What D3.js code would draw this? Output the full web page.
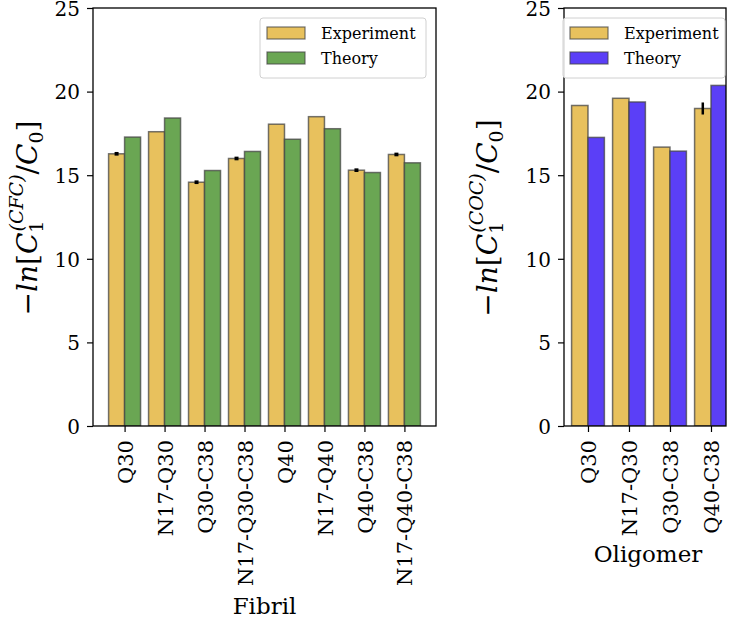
<!DOCTYPE html>
<html>
<head>
<meta charset="utf-8">
<script src="https://cdn.jsdelivr.net/npm/d3@7.9.0/dist/d3.min.js"></script>
<style>
  body { margin: 0; background: #fff; }
  svg text { font-family: "DejaVu Serif", "Liberation Serif", serif; fill: #000; }
</style>
</head>
<body>
<svg id="chart" width="736" height="623"></svg>
<script>
// ---- data ----
const fibrilCats = ['Q30', 'N17-Q30', 'Q30-C38', 'N17-Q30-C38', 'Q40', 'N17-Q40', 'Q40-C38', 'N17-Q40-C38'];
const fibrilExp = [16.28, 17.6, 14.58, 16.0, 18.05, 18.5, 15.3, 16.24];
const fibrilExpErr = [0.05, 0.0, 0.05, 0.05, 0.0, 0.0, 0.05, 0.05];
const fibrilTheory = [17.28, 18.42, 15.28, 16.42, 17.15, 17.78, 15.16, 15.74];

const oligoCats = ['Q30', 'N17-Q30', 'Q30-C38', 'Q40-C38'];
const oligoExp = [19.17, 19.6, 16.68, 18.99];
const oligoExpErr = [0.0, 0.0, 0.0, 0.36];
const oligoTheory = [17.26, 19.38, 16.44, 20.37];

const yTicks = [0, 5, 10, 15, 20, 25];
const seriesNames = ['Experiment', 'Theory'];

const YELLOW = '#e8c15d';
const GREEN = '#6aa653';
const BLUE = '#5b3ff7';
const EDGE = 'rgba(70,70,70,0.75)';

const svg = d3.select('#chart');

/* draw one panel */
function panel(opt) {
  const { left, right, top, bottom, xDomain, cats, exp, err, theory, theoryColor, yLabelX, sup, xTitle, xTitleY } = opt;
  const g = svg.append('g');
  const x = d3.scaleLinear().domain(xDomain).range([left, right]);
  const y = d3.scaleLinear().domain([0, 25]).range([bottom, top]);
  const w = 0.4;

  const clipId = 'clip' + left;
  svg.append('clipPath').attr('id', clipId)
    .append('rect').attr('x', left).attr('y', top).attr('width', right - left).attr('height', bottom - top);

  const bars = g.append('g').attr('clip-path', `url(#${clipId})`);
  const data = cats.map((c, i) => ({ i, c, e: exp[i], err: err[i], t: theory[i] }));

  bars.selectAll('rect.exp').data(data).join('rect')
    .attr('x', d => x(d.i - w))
    .attr('width', d => x(w) - x(0))
    .attr('y', d => y(d.e))
    .attr('height', d => y(0) - y(d.e))
    .attr('fill', YELLOW).attr('stroke', EDGE).attr('stroke-width', 1.5);

  bars.selectAll('rect.th').data(data).join('rect')
    .attr('x', d => x(d.i))
    .attr('width', d => x(w) - x(0))
    .attr('y', d => y(d.t))
    .attr('height', d => y(0) - y(d.t))
    .attr('fill', theoryColor).attr('stroke', EDGE).attr('stroke-width', 1.5);

  // error bars
  bars.selectAll('line.err').data(data.filter(d => d.err > 0)).join('line')
    .attr('x1', d => x(d.i - w / 2)).attr('x2', d => x(d.i - w / 2))
    .attr('y1', d => y(d.e - d.err) + (d.err < 0.1 ? 1 : 0))
    .attr('y2', d => y(d.e + d.err) - (d.err < 0.1 ? 1 : 0))
    .attr('stroke', '#000').attr('stroke-width', d => d.err < 0.1 ? 4 : 2.5);

  // frame
  g.append('rect').attr('x', left).attr('y', top).attr('width', right - left).attr('height', bottom - top)
    .attr('fill', 'none').attr('stroke', '#000').attr('stroke-width', 1.3);

  // y axis
  const ya = g.append('g').attr('transform', `translate(${left},0)`)
    .call(d3.axisLeft(y).tickValues(yTicks).tickSize(6).tickPadding(7));
  ya.select('.domain').remove();
  ya.selectAll('line').attr('stroke-width', 1.2);
  ya.selectAll('text').style('font-size', '20px').attr('dy', '0.36em');

  // x axis
  const xa = g.append('g').attr('transform', `translate(0,${bottom})`)
    .call(d3.axisBottom(x).tickValues(d3.range(cats.length)).tickFormat(i => cats[i]).tickSize(6).tickPadding(8));
  xa.select('.domain').remove();
  xa.selectAll('line').attr('stroke-width', 1.2);
  xa.selectAll('text')
    .style('font-size', '21px')
    .attr('text-anchor', 'end')
    .attr('transform', 'rotate(-90)')
    .attr('x', -14).attr('y', 0).attr('dy', '0.36em');

  // x title
  g.append('text').attr('x', (left + right) / 2 + (opt.xTitleDx || 0)).attr('y', xTitleY)
    .attr('text-anchor', 'middle').style('font-size', '23px').text(xTitle);

  // y label: -ln[C_1^(sup)/C_0]
  const yl = g.append('text')
    .attr('transform', `translate(${yLabelX},218) rotate(-90)`)
    .attr('text-anchor', 'middle').style('font-size', '28px').style('font-style', 'italic');
  yl.append('tspan').style('font-style', 'normal').text('\u2212');
  yl.append('tspan').text('ln');
  yl.append('tspan').style('font-style', 'normal').text('[');
  yl.append('tspan').text('C');
  yl.append('tspan').style('font-style', 'normal').style('font-size', '19px').attr('dy', 6).text('1');
  yl.append('tspan').style('font-size', '19px').attr('dx', -11).attr('dy', -20).text('(' + sup + ')');
  yl.append('tspan').style('font-style', 'normal').attr('dy', 14).text('/');
  yl.append('tspan').text('C');
  yl.append('tspan').style('font-style', 'normal').style('font-size', '19px').attr('dy', 6).text('0');
  yl.append('tspan').style('font-style', 'normal').attr('dy', -6).text(']');

  // legend
  const lg = g.append('g');
  const lx = opt.legendX, lw = opt.legendW;
  lg.append('rect').attr('x', lx).attr('y', 18).attr('width', lw).attr('height', 60)
    .attr('rx', 3).attr('fill', '#fff').attr('fill-opacity', 0.85).attr('stroke', '#d0d0d0');
  const lcolors = [YELLOW, theoryColor];
  seriesNames.forEach((s, k) => {
    lg.append('rect').attr('x', lx + 7).attr('y', 27 + k * 25).attr('width', 38).attr('height', 12)
      .attr('fill', lcolors[k]).attr('stroke', EDGE).attr('stroke-width', 1.2);
    lg.append('text').attr('x', lx + 61).attr('y', 39 + k * 25).style('font-size', '16px').text(s);
  });
}

panel({
  left: 93, right: 436, top: 8, bottom: 426,
  xDomain: [-0.79, 7.79],
  cats: fibrilCats, exp: fibrilExp, err: fibrilExpErr, theory: fibrilTheory,
  theoryColor: GREEN, yLabelX: 37, sup: 'CFC',
  xTitle: 'Fibril', xTitleY: 614, xTitleDx: 0,
  legendX: 260, legendW: 166
});

panel({
  left: 564, right: 726, top: 8, bottom: 426,
  xDomain: [-0.585, 3.366],
  cats: oligoCats, exp: oligoExp, err: oligoExpErr, theory: oligoTheory,
  theoryColor: BLUE, yLabelX: 497, sup: 'COC',
  xTitle: 'Oligomer', xTitleY: 562, xTitleDx: 3,
  legendX: 563, legendW: 162
});
</script>
</body>
</html>
